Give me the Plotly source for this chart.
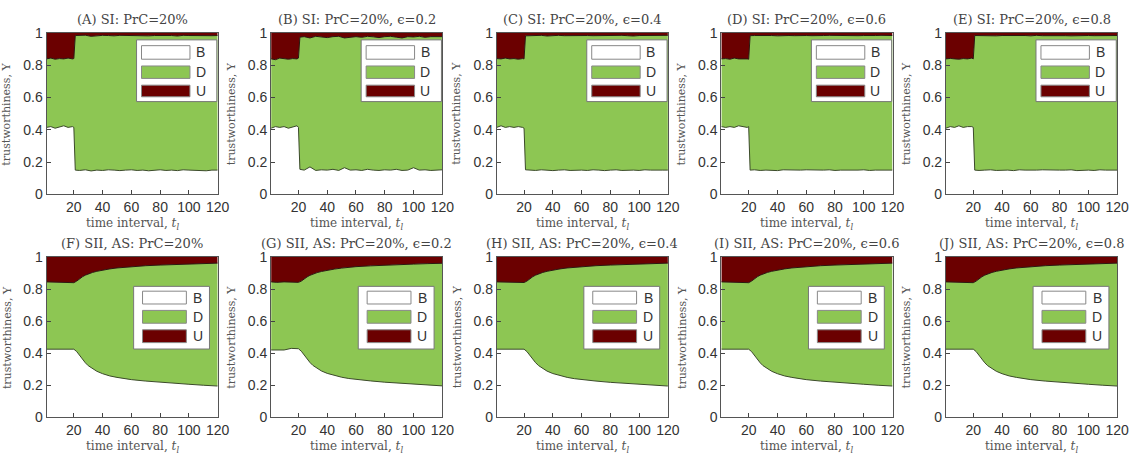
import plotly.graph_objects as go

# ---------------- data ----------------
t_si = [1, 4, 7, 10, 13, 16, 19, 20, 21, 24, 28, 32, 36, 40, 44, 48, 52, 56, 60, 64, 68,
        72, 76, 80, 84, 88, 92, 96, 100, 104, 108, 112, 116, 120]
t_sii = [1, 5, 10, 15, 20, 22, 24, 26, 28, 30, 33, 36, 40, 45, 50, 55, 60, 70, 80, 90, 100, 110, 120]

# belief (B) upper boundary and belief+disbelief (B+D) upper boundary
A_B = [0.415, 0.42, 0.41, 0.42, 0.425, 0.415, 0.42, 0.415, 0.15,
       0.148, 0.152, 0.145, 0.15, 0.148, 0.152, 0.15, 0.147, 0.15, 0.152, 0.148, 0.15, 0.146,
       0.15, 0.152, 0.148, 0.15, 0.147, 0.152, 0.15, 0.148, 0.15, 0.146, 0.15, 0.15]
A_BD = [0.84, 0.845, 0.838, 0.842, 0.84, 0.845, 0.84, 0.842, 0.985,
        0.985, 0.987, 0.98, 0.984, 0.986, 0.985, 0.983, 0.986, 0.985, 0.984, 0.986, 0.985, 0.983,
        0.985, 0.986, 0.984, 0.985, 0.982, 0.986, 0.985, 0.984, 0.986, 0.985, 0.984, 0.985]

B_B = [0.41, 0.42, 0.415, 0.42, 0.41, 0.42, 0.425, 0.415, 0.155,
       0.15, 0.17, 0.148, 0.152, 0.15, 0.155, 0.148, 0.165, 0.15, 0.152, 0.148, 0.155, 0.15,
       0.148, 0.152, 0.15, 0.155, 0.148, 0.15, 0.165, 0.15, 0.152, 0.148, 0.15, 0.152]
B_BD = [0.84, 0.835, 0.845, 0.84, 0.838, 0.842, 0.84, 0.845, 0.975,
        0.978, 0.97, 0.98, 0.975, 0.972, 0.978, 0.98, 0.97, 0.976, 0.978, 0.974, 0.98, 0.977,
        0.972, 0.978, 0.98, 0.975, 0.97, 0.978, 0.976, 0.98, 0.974, 0.978, 0.976, 0.978]

C_B = [0.415, 0.425, 0.415, 0.42, 0.415, 0.42, 0.415, 0.41, 0.152,
       0.15, 0.148, 0.152, 0.15, 0.147, 0.15, 0.152, 0.148, 0.15, 0.15, 0.148, 0.152, 0.15,
       0.147, 0.15, 0.152, 0.148, 0.15, 0.15, 0.148, 0.152, 0.15, 0.148, 0.15, 0.15]
C_BD = [0.842, 0.84, 0.845, 0.84, 0.842, 0.838, 0.842, 0.84, 0.983,
        0.985, 0.984, 0.986, 0.982, 0.985, 0.986, 0.984, 0.985, 0.983, 0.986, 0.985, 0.984, 0.985,
        0.986, 0.983, 0.985, 0.986, 0.984, 0.982, 0.985, 0.986, 0.985, 0.984, 0.985, 0.986]

D_B = [0.42, 0.415, 0.42, 0.415, 0.425, 0.42, 0.415, 0.42, 0.15,
       0.152, 0.148, 0.15, 0.15, 0.147, 0.152, 0.15, 0.148, 0.15, 0.152, 0.15, 0.148, 0.15,
       0.152, 0.148, 0.15, 0.15, 0.147, 0.15, 0.152, 0.148, 0.15, 0.15, 0.148, 0.15]
D_BD = [0.84, 0.842, 0.838, 0.845, 0.84, 0.842, 0.84, 0.838, 0.984,
        0.985, 0.986, 0.984, 0.985, 0.983, 0.986, 0.985, 0.984, 0.986, 0.985, 0.984, 0.983, 0.985,
        0.986, 0.985, 0.984, 0.985, 0.986, 0.984, 0.985, 0.983, 0.985, 0.986, 0.985, 0.985]

E_B = [0.41, 0.42, 0.415, 0.425, 0.415, 0.42, 0.42, 0.415, 0.15,
       0.148, 0.15, 0.152, 0.148, 0.15, 0.15, 0.147, 0.152, 0.15, 0.148, 0.15, 0.152, 0.15,
       0.148, 0.15, 0.15, 0.152, 0.147, 0.15, 0.15, 0.148, 0.152, 0.15, 0.148, 0.15]
E_BD = [0.84, 0.843, 0.84, 0.838, 0.842, 0.84, 0.845, 0.84, 0.985,
        0.984, 0.986, 0.985, 0.983, 0.985, 0.986, 0.984, 0.985, 0.985, 0.983, 0.986, 0.984, 0.985,
        0.986, 0.985, 0.984, 0.983, 0.985, 0.986, 0.985, 0.984, 0.985, 0.986, 0.984, 0.985]

F_B = [0.425, 0.425, 0.425, 0.425, 0.425, 0.41, 0.385, 0.36, 0.34, 0.322, 0.302, 0.287, 0.272,
       0.258, 0.249, 0.241, 0.235, 0.226, 0.218, 0.212, 0.206, 0.2, 0.195]
F_BD = [0.845, 0.843, 0.845, 0.842, 0.84, 0.85, 0.865, 0.877, 0.887, 0.895, 0.904, 0.911, 0.919,
        0.926, 0.932, 0.936, 0.94, 0.946, 0.95, 0.954, 0.957, 0.96, 0.962]

G_B = [0.42, 0.42, 0.42, 0.43, 0.428, 0.412, 0.388, 0.362, 0.342, 0.324, 0.304, 0.289, 0.274,
       0.26, 0.25, 0.242, 0.236, 0.227, 0.219, 0.213, 0.207, 0.201, 0.196]
G_BD = [0.845, 0.842, 0.845, 0.843, 0.842, 0.85, 0.864, 0.876, 0.886, 0.894, 0.903, 0.91, 0.918,
        0.925, 0.931, 0.936, 0.94, 0.945, 0.95, 0.953, 0.956, 0.959, 0.961]

H_B = [0.425, 0.425, 0.425, 0.425, 0.425, 0.41, 0.386, 0.361, 0.341, 0.323, 0.303, 0.288, 0.273,
       0.259, 0.249, 0.241, 0.235, 0.226, 0.218, 0.212, 0.206, 0.2, 0.195]
H_BD = [0.845, 0.844, 0.845, 0.842, 0.841, 0.85, 0.865, 0.877, 0.887, 0.895, 0.904, 0.911, 0.919,
        0.926, 0.932, 0.936, 0.94, 0.946, 0.95, 0.954, 0.957, 0.96, 0.962]

I_B = [0.425, 0.425, 0.425, 0.425, 0.425, 0.41, 0.385, 0.36, 0.34, 0.322, 0.302, 0.287, 0.272,
       0.258, 0.249, 0.241, 0.235, 0.226, 0.218, 0.212, 0.206, 0.2, 0.195]
I_BD = [0.845, 0.843, 0.845, 0.842, 0.84, 0.85, 0.865, 0.877, 0.887, 0.895, 0.904, 0.911, 0.919,
        0.926, 0.932, 0.936, 0.94, 0.946, 0.95, 0.954, 0.957, 0.96, 0.962]

J_B = [0.425, 0.425, 0.425, 0.425, 0.425, 0.41, 0.385, 0.36, 0.34, 0.322, 0.302, 0.287, 0.272,
       0.258, 0.249, 0.241, 0.235, 0.226, 0.218, 0.212, 0.206, 0.2, 0.195]
J_BD = [0.845, 0.843, 0.845, 0.842, 0.84, 0.85, 0.865, 0.877, 0.887, 0.895, 0.904, 0.911, 0.919,
        0.926, 0.932, 0.936, 0.94, 0.946, 0.95, 0.954, 0.957, 0.96, 0.962]

titles = ["(A) SI: PrC=20%", "(B) SI: PrC=20%, ϵ=0.2", "(C) SI: PrC=20%, ϵ=0.4",
          "(D) SI: PrC=20%, ϵ=0.6", "(E) SI: PrC=20%, ϵ=0.8",
          "(F) SII, AS: PrC=20%", "(G) SII, AS: PrC=20%, ϵ=0.2", "(H) SII, AS: PrC=20%, ϵ=0.4",
          "(I) SII, AS: PrC=20%, ϵ=0.6", "(J) SII, AS: PrC=20%, ϵ=0.8"]
series_B = [A_B, B_B, C_B, D_B, E_B, F_B, G_B, H_B, I_B, J_B]
series_BD = [A_BD, B_BD, C_BD, D_BD, E_BD, F_BD, G_BD, H_BD, I_BD, J_BD]
legend_labels = ["B", "D", "U"]
x_ticks = [20, 40, 60, 80, 100, 120]
y_ticks = [0, 0.2, 0.4, 0.6, 0.8, 1]
y_ticktext = ["0", "0.2", "0.4", "0.6", "0.8", "1"]

# ---------------- style ----------------
W, H = 1142, 461
GREEN = "#8dc653"
RED = "#6b0000"
SERIF = "DejaVu Serif"
SANS = "Liberation Sans"
lefts = [47, 274, 502, 729, 956]
pw = 173
rows = [(26, 193), (258, 424)]  # (top, bottom) pixel of axes

fig = go.Figure()
layout = dict(width=W, height=H, margin=dict(l=0, r=0, t=0, b=0),
              paper_bgcolor="white", plot_bgcolor="white", showlegend=False)
annotations = []
shapes = []

for i in range(10):
    r = i // 5
    c = i % 5
    k = i + 1
    xa = "x" if k == 1 else f"x{k}"
    ya = "y" if k == 1 else f"y{k}"
    top, bot = rows[r]
    x0 = lefts[c] / W
    x1 = (lefts[c] + pw) / W
    y0 = (H - bot) / H
    y1 = (H - top) / H
    t = t_si if r == 0 else t_sii
    bvals = series_B[i]
    bdvals = series_BD[i]
    ones = [1.0] * len(t)

    fig.add_trace(go.Scatter(x=t, y=bvals, mode="lines", fill="tozeroy", fillcolor="white",
                             line=dict(color="#3b4a2a", width=1), xaxis=xa, yaxis=ya,
                             hoverinfo="skip"))
    fig.add_trace(go.Scatter(x=t, y=bdvals, mode="lines", fill="tonexty", fillcolor=GREEN,
                             line=dict(color="#2a1a10", width=1), xaxis=xa, yaxis=ya,
                             hoverinfo="skip"))
    fig.add_trace(go.Scatter(x=t, y=ones, mode="lines", fill="tonexty", fillcolor=RED,
                             line=dict(color=RED, width=0), xaxis=xa, yaxis=ya,
                             hoverinfo="skip"))

    axkey_x = "xaxis" if k == 1 else f"xaxis{k}"
    axkey_y = "yaxis" if k == 1 else f"yaxis{k}"
    layout[axkey_x] = dict(domain=[x0, x1], anchor=ya, range=[1, 120],
                           tickvals=x_ticks, ticks="inside", ticklen=4,
                           tickcolor="#444", showline=True, linecolor="#555", linewidth=1,
                           mirror=True, showgrid=False, zeroline=False,
                           tickfont=dict(family=SANS, size=14, color="#333"))
    layout[axkey_y] = dict(domain=[y0, y1], anchor=xa, range=[0, 1],
                           tickvals=y_ticks, ticktext=y_ticktext, ticks="inside", ticklen=4,
                           tickcolor="#444", showline=True, linecolor="#555", linewidth=1,
                           mirror=True, showgrid=False, zeroline=False,
                           tickfont=dict(family=SANS, size=14, color="#333"))

    cx = (lefts[c] + pw / 2) / W
    # title
    annotations.append(dict(text=titles[i], xref="paper", yref="paper",
                            x=cx, y=(H - (top - 14)) / H, xanchor="center", yanchor="middle",
                            showarrow=False, font=dict(family=SERIF, size=13, color="#444")))
    # x title
    annotations.append(dict(text="time interval, <i>t<sub>l</sub></i>", xref="paper", yref="paper",
                            x=cx, y=(H - (bot + 31)) / H, xanchor="center", yanchor="middle",
                            showarrow=False, font=dict(family=SERIF, size=12, color="#555")))
    # y title
    annotations.append(dict(text="trustworthiness, Υ", xref="paper", yref="paper",
                            x=(lefts[c] - 40) / W, y=(H - (top + bot) / 2) / H,
                            xanchor="center", yanchor="middle", textangle=-90,
                            showarrow=False, font=dict(family=SERIF, size=11, color="#555")))

    # legend drawn in axis-domain coordinates
    xd = f"{xa} domain"
    yd = f"{ya} domain"
    if r == 0:
        box = (0.526, 0.575, 0.995, 0.958)
        sx = (0.555, 0.838)
        sy = [(0.838, 0.922), (0.719, 0.796), (0.605, 0.677)]
        lx = 0.9
    else:
        box = (0.509, 0.426, 0.952, 0.817)
        sx = (0.561, 0.817)
        sy = [(0.707, 0.787), (0.587, 0.667), (0.466, 0.546)]
        lx = 0.884
    shapes.append(dict(type="rect", xref=xd, yref=yd, x0=box[0], y0=box[1], x1=box[2], y1=box[3],
                       fillcolor="white", line=dict(color="#777", width=1), layer="above"))
    for j, col in enumerate(["white", GREEN, RED]):
        shapes.append(dict(type="rect", xref=xd, yref=yd, x0=sx[0], x1=sx[1],
                           y0=sy[j][0], y1=sy[j][1], fillcolor=col,
                           line=dict(color="#888", width=1), layer="above"))
        annotations.append(dict(text=legend_labels[j], xref=xd, yref=yd, x=lx,
                                y=(sy[j][0] + sy[j][1]) / 2, xanchor="center", yanchor="middle",
                                showarrow=False, font=dict(family=SANS, size=14, color="#333")))

layout["annotations"] = annotations
layout["shapes"] = shapes
fig.update_layout(**layout)
fig.write_html("out.html")
